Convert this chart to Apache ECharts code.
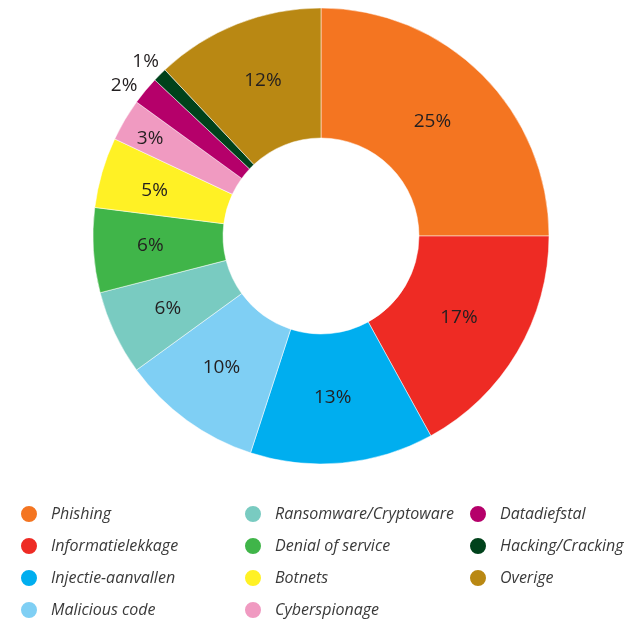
<!DOCTYPE html>
<html>
<head>
<meta charset="utf-8">
<script src="https://cdn.jsdelivr.net/npm/echarts@6/dist/echarts.min.js"></script>
<style>
html,body{margin:0;padding:0;background:#fff;}
#c{width:638px;height:623px;}
</style>
</head>
<body>
<div id="c"></div>
<script>
// Data
const categories = ['Phishing','Informatielekkage','Injectie-aanvallen','Malicious code','Ransomware/Cryptoware','Denial of service','Botnets','Cyberspionage','Datadiefstal','Hacking/Cracking','Overige'];
const values = [25,17,13,10,6,6,5,3,2,1,12];
const legendCol1 = ['Phishing','Informatielekkage','Injectie-aanvallen','Malicious code'];
const legendCol2 = ['Ransomware/Cryptoware','Denial of service','Botnets','Cyberspionage'];
const legendCol3 = ['Datadiefstal','Hacking/Cracking','Overige'];

// Styles
const colors = ['#F47521','#EE2B24','#00AEEF','#7FCFF4','#79CBC1','#40B549','#FFF125','#F09AC1','#B5006A','#00421B','#B98813'];
const labelOffsets = {
  'Phishing':[-6,3],
  'Informatielekkage':[-5,-3],
  'Injectie-aanvallen':[-4,-4],
  'Malicious code':[-2,-3],
  'Ransomware/Cryptoware':[-3,2],
  'Denial of service':[-5,-1],
  'Botnets':[-7,1],
  'Cyberspionage':[-28,-13],
  'Datadiefstal':[-69,-45],
  'Hacking/Cracking':[-58,-57],
  'Overige':[3,-1]
};

const chart = echarts.init(document.getElementById('c'), null, {renderer:'canvas'});
const legendBase = {
  orient:'vertical', icon:'circle', itemWidth:18, itemHeight:18, itemGap:12,
  padding:0,
  selectedMode:false,
  textStyle:{fontFamily:'Open Sans', fontStyle:'italic', fontSize:16, lineHeight:18, color:'#3a3a3a', padding:[0,0,0,8]}
};
chart.setOption({
  animation:false,
  color: colors,
  legend:[
    Object.assign({}, legendBase, {left:19, top:504, data:legendCol1}),
    Object.assign({}, legendBase, {left:243, top:504, data:legendCol2}),
    Object.assign({}, legendBase, {left:468, top:504, data:legendCol3})
  ],
  series:[{
    type:'pie',
    center:[321,236],
    radius:[98,228],
    startAngle:90,
    clockwise:true,
    avoidLabelOverlap:false,
    itemStyle:{borderColor:'#fff', borderWidth:0.5},
    label:{show:true, position:'inside', formatter:'{c}%', fontFamily:'Open Sans', fontSize:19, color:'#231F20'},
    labelLine:{show:false},
    emphasis:{disabled:true},
    data: categories.map((n,i)=>{
      const d = {name:n, value:values[i]};
      if (labelOffsets[n]) d.label = {offset: labelOffsets[n]};
      return d;
    })
  }]
});
</script>
</body>
</html>
